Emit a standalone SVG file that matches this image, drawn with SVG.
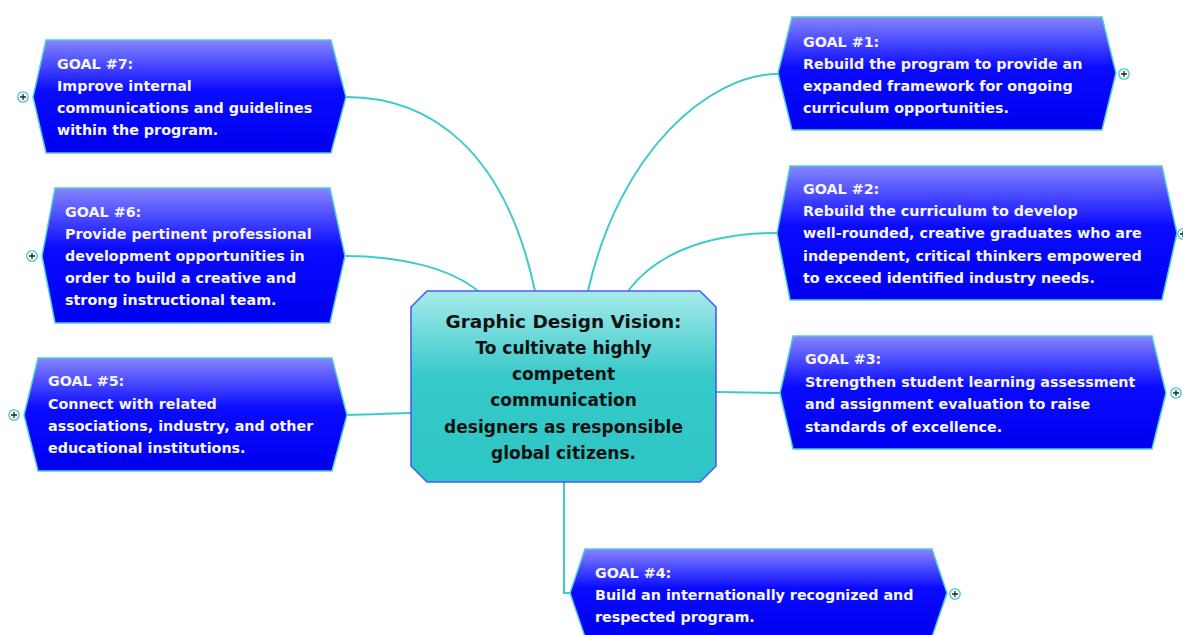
<svg xmlns="http://www.w3.org/2000/svg" width="1183" height="635" viewBox="0 0 1183 635">
  <defs>
    <linearGradient id="goalFill" x1="0" y1="0" x2="0" y2="1">
      <stop offset="0" stop-color="#8585ff"/>
      <stop offset="0.45" stop-color="#0a0aff"/>
      <stop offset="1" stop-color="#0000f0"/>
    </linearGradient>
    <linearGradient id="centerFill" x1="0" y1="0" x2="0" y2="1">
      <stop offset="0" stop-color="#a8eaea"/>
      <stop offset="0.45" stop-color="#36c9c9"/>
      <stop offset="1" stop-color="#2ec6c6"/>
    </linearGradient>
    <g id="plus">
      <circle r="5.2" fill="#ffffff" stroke="#3cc8c8" stroke-width="1.3"/>
      <path d="M-3 0H3M0 -3V3" stroke="#222" stroke-width="1.3"/>
    </g>
  </defs>
  <style>
    .goal { fill: url(#goalFill); stroke: #4fd0d0; stroke-width: 1.5; }
    .center { fill: url(#centerFill); stroke: #4a5cf0; stroke-width: 1.6; }
    .gt { font-family: "DejaVu Sans", Verdana, sans-serif; font-weight: bold; font-size: 14.3px; fill: #f6f6ff; }
    .ct { font-family: "DejaVu Sans", Verdana, sans-serif; font-weight: bold; font-size: 17px; fill: #111111; text-anchor: middle; }
    .ct.title { font-size: 18.5px; }
    .link { fill: none; stroke: #3ccaca; stroke-width: 2; }
  </style>
  <rect width="1183" height="635" fill="#ffffff"/>

  <!-- connectors from the central vision to each goal -->
  <g id="connectors">
    <path class="link" d="M346 97 C430 97 505 150 535 291"/>
    <path class="link" d="M345 256 C400 256 450 268 478 291"/>
    <path class="link" d="M347 415 C375 415 392 413 411 413"/>
    <path class="link" d="M778 74 C710 74 620 150 588 291"/>
    <path class="link" d="M777 233 C705 233 655 255 628 291"/>
    <path class="link" d="M780 393 L716 392"/>
    <path class="link" d="M564 482 V593 H570"/>
  </g>

  <!-- central node -->
  <g id="vision">
    <path class="center" d="M427 291 H700 L716 307 V466 L700 482 H427 L411 466 V307 Z"/>
    <text class="ct title" x="563.5" y="328">Graphic Design Vision:</text>
    <text class="ct" x="563.5" y="354">To cultivate highly</text>
    <text class="ct" x="563.5" y="380">competent</text>
    <text class="ct" x="563.5" y="406">communication</text>
    <text class="ct" x="563.5" y="433">designers as responsible</text>
    <text class="ct" x="563.5" y="459">global citizens.</text>
  </g>

  <!-- goal 1 -->
  <g id="goal1">
    <path class="goal" d="M792 17 H1102 L1116 73 L1102 130 H792 L778 73 Z"/>
    <use href="#plus" x="1124" y="74"/>
    <text class="gt" x="803" y="47">GOAL #1:</text>
    <text class="gt" x="803" y="69">Rebuild the program to provide an</text>
    <text class="gt" x="803" y="91">expanded framework for ongoing</text>
    <text class="gt" x="803" y="113">curriculum opportunities.</text>
  </g>

  <!-- goal 2 -->
  <g id="goal2">
    <path class="goal" d="M790 166 H1162 L1177 233 L1162 300 H790 L777 233 Z"/>
    <use href="#plus" x="1183" y="234"/>
    <text class="gt" x="803" y="194">GOAL #2:</text>
    <text class="gt" x="803" y="216">Rebuild the curriculum to develop</text>
    <text class="gt" x="803" y="238">well-rounded, creative graduates who are</text>
    <text class="gt" x="803" y="261">independent, critical thinkers empowered</text>
    <text class="gt" x="803" y="283">to exceed identified industry needs.</text>
  </g>

  <!-- goal 3 -->
  <g id="goal3">
    <path class="goal" d="M793 336 H1152 L1166 393 L1152 449 H793 L780 393 Z"/>
    <use href="#plus" x="1176" y="393"/>
    <text class="gt" x="805" y="364">GOAL #3:</text>
    <text class="gt" x="805" y="387">Strengthen student learning assessment</text>
    <text class="gt" x="805" y="409">and assignment evaluation to raise</text>
    <text class="gt" x="805" y="432">standards of excellence.</text>
  </g>

  <!-- goal 4 -->
  <g id="goal4">
    <path class="goal" d="M585 549 H932 L947 593 L932 637 H585 L570 593 Z"/>
    <use href="#plus" x="955" y="594"/>
    <text class="gt" x="595" y="578">GOAL #4:</text>
    <text class="gt" x="595" y="600">Build an internationally recognized and</text>
    <text class="gt" x="595" y="622">respected program.</text>
  </g>

  <!-- goal 5 -->
  <g id="goal5">
    <path class="goal" d="M38 358 H332 L347 415 L332 471 H38 L24 415 Z"/>
    <use href="#plus" x="14" y="415"/>
    <text class="gt" x="48" y="386">GOAL #5:</text>
    <text class="gt" x="48" y="409">Connect with related</text>
    <text class="gt" x="48" y="431">associations, industry, and other</text>
    <text class="gt" x="48" y="453">educational institutions.</text>
  </g>

  <!-- goal 6 -->
  <g id="goal6">
    <path class="goal" d="M55 188 H330 L345 256 L330 323 H55 L42 256 Z"/>
    <use href="#plus" x="32" y="256"/>
    <text class="gt" x="65" y="217">GOAL #6:</text>
    <text class="gt" x="65" y="239">Provide pertinent professional</text>
    <text class="gt" x="65" y="261">development opportunities in</text>
    <text class="gt" x="65" y="283">order to build a creative and</text>
    <text class="gt" x="65" y="305">strong instructional team.</text>
  </g>

  <!-- goal 7 -->
  <g id="goal7">
    <path class="goal" d="M46 40 H331 L346 97 L331 153 H46 L33 97 Z"/>
    <use href="#plus" x="23" y="97"/>
    <text class="gt" x="57" y="69">GOAL #7:</text>
    <text class="gt" x="57" y="91">Improve internal</text>
    <text class="gt" x="57" y="113">communications and guidelines</text>
    <text class="gt" x="57" y="135">within the program.</text>
  </g>
</svg>
